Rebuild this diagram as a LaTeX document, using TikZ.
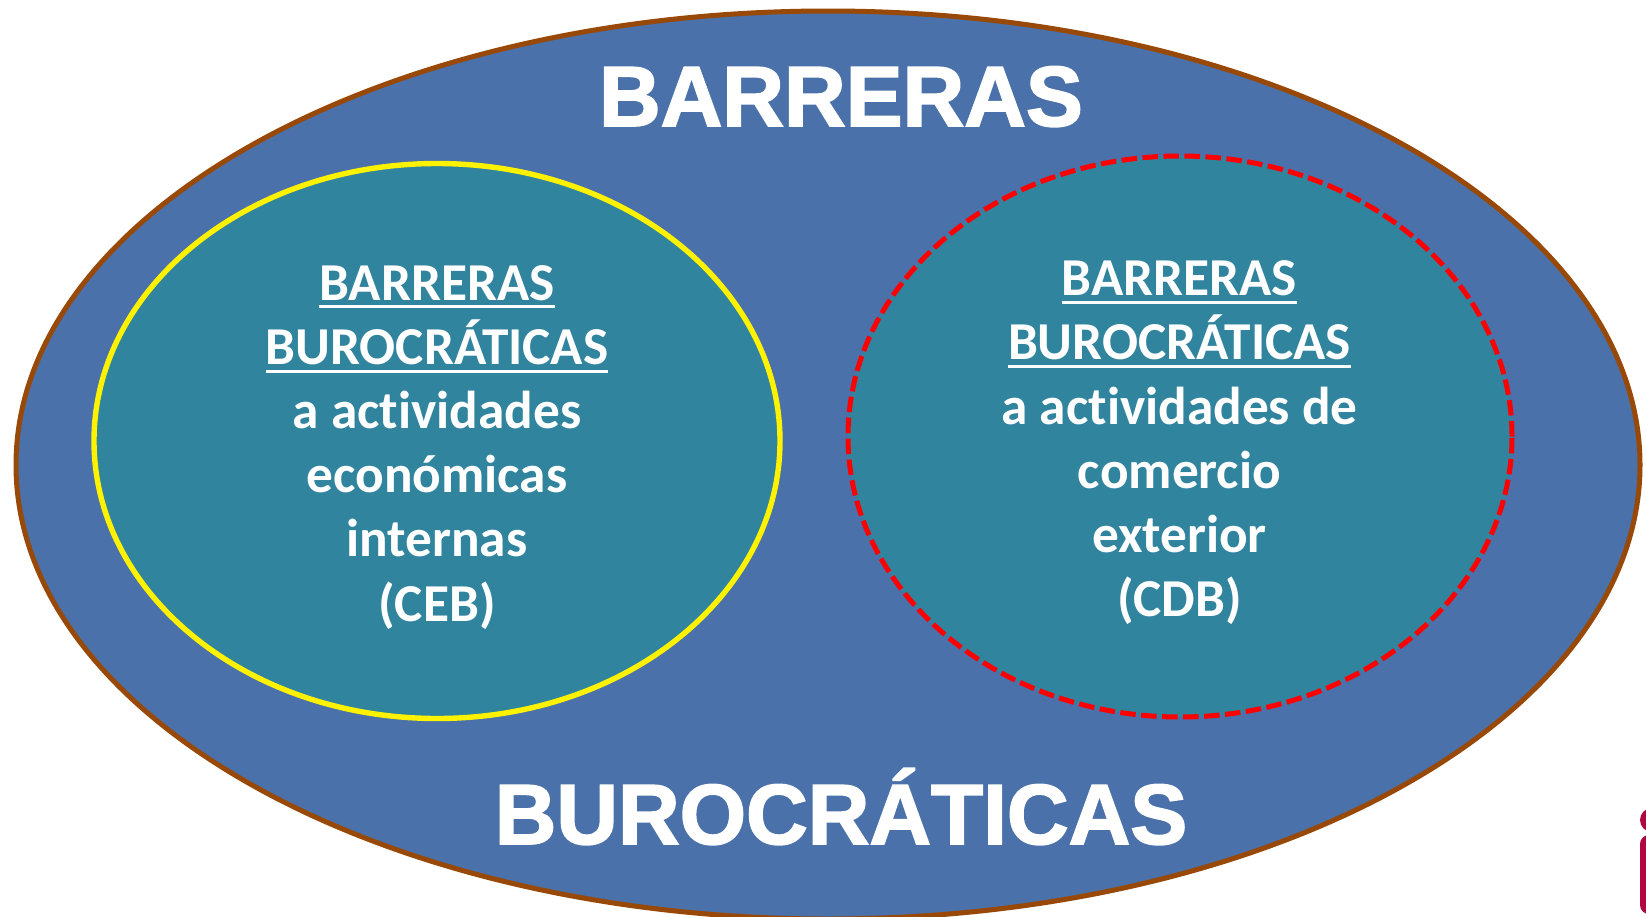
\documentclass[tikz,border=0pt]{standalone}
\usepackage{fontspec}
\setmainfont[Ligatures=NoCommon]{Carlito}
\newfontfamily\titlefont[BoldFeatures={FakeBold=2}]{Liberation Sans}
\usetikzlibrary{shapes.geometric}
\definecolor{outerfill}{HTML}{4A71A9}
\definecolor{outerline}{HTML}{984807}
\definecolor{innerfill}{HTML}{31849E}
\definecolor{logocol}{HTML}{B0073F}
\newcommand{\ulx}[1]{\setbox0\hbox{#1}\leavevmode\rlap{\rule[-8.2pt]{\wd0}{3pt}}\box0}
\tikzset{
  x=1pt,y=-1pt,
  outerell/.style={ellipse,draw=outerline,fill=outerfill,line width=5pt,inner sep=0pt,
     minimum width=1624pt,minimum height=908pt},
  innerell/.style={ellipse,fill=innerfill,inner sep=0pt},
  titletxt/.style={text=white,anchor=base,inner sep=0pt,font=\titlefont\bfseries\fontsize{85.4}{85.4}\selectfont},
  bodytxt/.style={text=white,align=center,inner sep=0pt,anchor=north,font=\bfseries\fontsize{53.3}{64.2}\selectfont},
}
\begin{document}
\begin{tikzpicture}
\useasboundingbox (0,0) rectangle (1646,916);
\node[outerell] (outer) at (828,465) {};
\node[innerell,draw=yellow,line width=5.4pt,minimum width=686pt,minimum height=555pt] (left) at (437,441) {};
\node[innerell,draw=red,line width=5pt,dash pattern=on 15.5pt off 5.5pt,minimum width=664pt,minimum height=561pt] (right) at (1180,436.5) {};
\node[titletxt] (t1) at (841,126) {BARRERAS};
\node[titletxt] (t2) at (841,844) {BUROCRÁTICAS};
\node[bodytxt] (lt) at (437,265) {\ulx{BARRERAS}\\ \ulx{BUROCRÁTICAS}\\ a actividades\\ económicas\\ internas\\ (CEB)};
\node[bodytxt] (rt) at (1179.5,260.5) {\ulx{BARRERAS}\\ \ulx{BUROCRÁTICAS}\\ a actividades de\\ comercio\\ exterior\\ (CDB)};
\begin{scope}
\clip (0,0) rectangle (1646,916);
\fill[logocol] (1652,820) circle (12);
\fill[logocol,rounded corners=9pt] (1640,835) rectangle (1670,914);
\end{scope}
\end{tikzpicture}
\end{document}
